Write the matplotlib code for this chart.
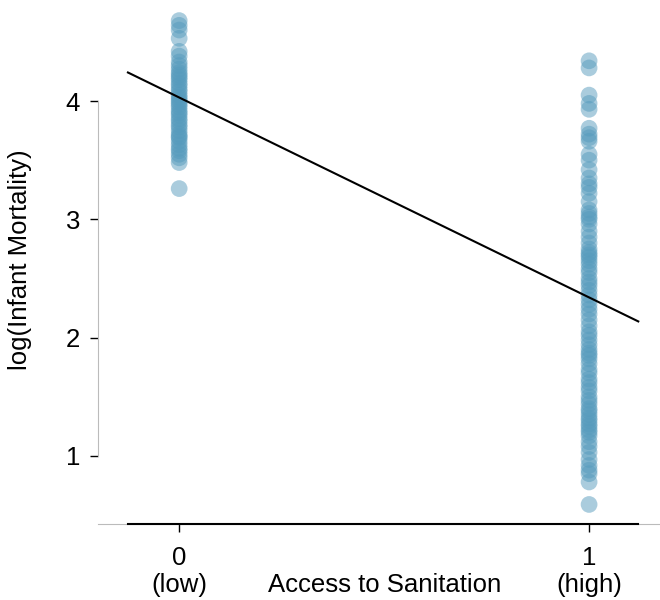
import numpy as np
import matplotlib
matplotlib.use('Agg')
import matplotlib.pyplot as plt
import matplotlib.transforms as mtransforms

plt.rcParams['font.family'] = ['Liberation Sans', 'DejaVu Sans']

# log(infant mortality) for countries with low (0) and high (1) sanitation access
low_vals = [4.68, 4.64, 4.60, 4.53, 4.42, 4.38, 4.33, 4.30, 4.27, 4.24, 4.22, 4.20,
            4.18, 4.15, 4.13, 4.10, 4.08, 4.05, 4.03, 4.01, 3.99, 3.97, 3.95, 3.92,
            3.90, 3.88, 3.85, 3.83, 3.80, 3.78, 3.75, 3.72, 3.70, 3.69, 3.66, 3.63,
            3.60, 3.58, 3.55, 3.52, 3.48, 3.26]
high_vals = [4.34, 4.28, 4.05, 3.98, 3.93, 3.77, 3.72, 3.69, 3.66, 3.55, 3.50, 3.42,
             3.35, 3.30, 3.27, 3.22, 3.15, 3.08, 3.05, 3.02, 3.00, 2.96, 2.90, 2.85,
             2.80, 2.75, 2.72, 2.70, 2.68, 2.65, 2.62, 2.58, 2.55, 2.50, 2.47, 2.44,
             2.40, 2.36, 2.32, 2.28, 2.24, 2.20, 2.15, 2.10, 2.05, 2.02, 1.98, 1.94,
             1.90, 1.87, 1.85, 1.82, 1.78, 1.73, 1.70, 1.65, 1.62, 1.58, 1.55, 1.50,
             1.47, 1.44, 1.40, 1.38, 1.35, 1.32, 1.30, 1.27, 1.25, 1.22, 1.20, 1.17,
             1.12, 1.08, 1.03, 0.97, 0.92, 0.88, 0.85, 0.78, 0.59]

# least squares line
intercept = 4.03
slope = -1.69
line_x = [-0.125, 1.12]

x_ticks = [0, 1]
x_tick_labels = ['0', '1']
x_sub_labels = ['(low)', '(high)']
y_ticks = [1, 2, 3, 4]

col = '#569BBD'
fs = 18.5

fig = plt.figure(figsize=(6.6, 6.0), dpi=100)
ax = fig.add_axes([0.1485, 0.1267, 0.8515, 0.8733])

ax.scatter(np.zeros(len(low_vals)), low_vals, s=145, color=col, alpha=0.5, edgecolors='none')
ax.scatter(np.ones(len(high_vals)), high_vals, s=145, color=col, alpha=0.5, edgecolors='none')

lx = np.array(line_x)
ax.plot(lx, intercept + slope * lx, color='black', lw=1.5)

ax.set_xlim(-0.198, 1.173)
ax.set_ylim(0.425, 4.854)

for s in ['top', 'right']:
    ax.spines[s].set_visible(False)
ax.spines['left'].set_color('#BBBBBB')
ax.spines['bottom'].set_color('#BBBBBB')
ax.spines['left'].set_bounds(1, 4)
ax.plot(line_x, [0.425, 0.425], color='black', lw=1.5, clip_on=False, zorder=5)

ax.set_xticks(x_ticks)
ax.set_xticklabels(x_tick_labels)
ax.set_yticks(y_ticks)
ax.tick_params(axis='both', length=6, width=1, color='black', labelsize=fs)
ax.tick_params(axis='x', pad=9.5)
ax.tick_params(axis='y', pad=7)

trans = mtransforms.blended_transform_factory(ax.transData, fig.transFigure)
for xv, lab in zip(x_ticks, x_sub_labels):
    ax.text(xv, 0.0133, lab, transform=trans, ha='center', va='baseline', fontsize=fs)
ax.text(0.502, 0.0133, 'Access to Sanitation', transform=trans, ha='center', va='baseline', fontsize=fs)

ax.set_ylabel('log(Infant Mortality)', fontsize=fs)
ax.yaxis.set_label_coords(-0.117, 0.504)

fig.savefig('out.png', dpi=100)
